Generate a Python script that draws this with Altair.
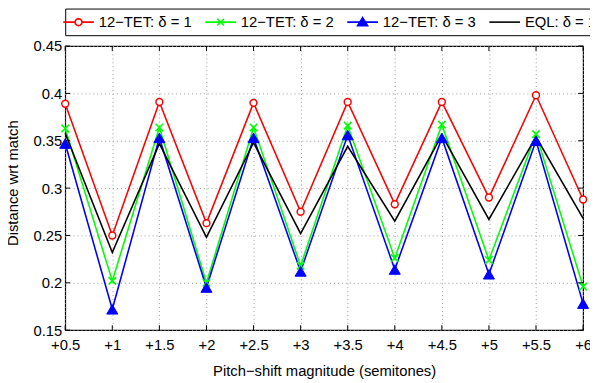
import json
import altair as alt
import pandas as pd

# ---- data ----
shifts = [0.5, 1, 1.5, 2, 2.5, 3, 3.5, 4, 4.5, 5, 5.5, 6]
tet_d1 = [0.389, 0.250, 0.391, 0.263, 0.390, 0.275, 0.391, 0.283, 0.391, 0.290, 0.398, 0.288]
tet_d2 = [0.363, 0.202, 0.364, 0.200, 0.364, 0.218, 0.366, 0.226, 0.367, 0.224, 0.357, 0.196]
tet_d3 = [0.347, 0.172, 0.353, 0.195, 0.353, 0.212, 0.356, 0.214, 0.353, 0.209, 0.350, 0.178]
eql_d1 = [0.358, 0.232, 0.347, 0.248, 0.348, 0.252, 0.344, 0.265, 0.356, 0.267, 0.354, 0.268]

series_names = ["12\u2212TET: \u03b4 = 1", "12\u2212TET: \u03b4 = 2", "12\u2212TET: \u03b4 = 3", "EQL: \u03b4 = 1"]
series_colors = ["#ff0000", "#00ff00", "#0000ff", "#000000"]
legend_fills = ["#ffffff", "transparent", "#0000ff", "transparent"]
legend_shapes = [
    "M-2.07,0H-0.47M0.47,0H2.07M0.47,0L0.41,0.24L0.24,0.41L0,0.47L-0.24,0.41L-0.41,0.24L-0.47,0"
    "L-0.41,-0.24L-0.24,-0.41L0,-0.47L0.24,-0.41L0.41,-0.24Z",
    "M-2.07,0H2.07M-0.45,-0.45L0.45,0.45M-0.45,0.45L0.45,-0.45",
    "M-2.07,0H2.07M0,-0.62L0.68,0.5L-0.68,0.5Z",
    "M-2.07,0H2.07",
]
x_ticks = shifts
y_ticks = [0.15, 0.2, 0.25, 0.3, 0.35, 0.4, 0.45]
x_title = "Pitch\u2212shift magnitude (semitones)"
y_title = "Distance wrt match"

FONT = "Liberation Sans, Arial, Helvetica, sans-serif"
W, H = 525, 288

rows = []
for name, vals in zip(series_names, [tet_d1, tet_d2, tet_d3, eql_d1]):
    for xv, yv in zip(shifts, vals):
        rows.append({"x": xv, "y": yv, "series": name})
df = pd.DataFrame(rows)

names_js = json.dumps(series_names, ensure_ascii=False)
shape_expr = json.dumps(legend_shapes) + "[indexof(" + names_js + ", datum.value)]"
fill_expr = json.dumps(legend_fills) + "[indexof(" + names_js + ", datum.value)]"

xscale = alt.Scale(domain=[0.5, 6], nice=False, zero=False)
yscale = alt.Scale(domain=[0.15, 0.45], nice=False, zero=False)

xaxis = alt.Axis(values=x_ticks, labelExpr="'+' + datum.value", grid=True,
                 gridDash=[1, 3], gridColor="#999999", ticks=False, tickSize=0,
                 domain=False, labelPadding=7.5, title=x_title, titlePadding=11,
                 labelFlush=False, labelOverlap=False)
yaxis = alt.Axis(values=y_ticks, labelExpr="'' + datum.value", grid=True,
                 gridDash=[1, 3], gridColor="#999999", ticks=False, tickSize=0,
                 domain=False, labelPadding=3.5, title=y_title,
                 titleX=-53, titleY=138.5, titleBaseline="middle",
                 labelFlush=False, labelOverlap=False)

legend = alt.Legend(
    orient="top", offset=11, direction="horizontal", columns=4,
    symbolSize=225, labelOffset=12, symbolOffset=0,
    symbolType={"expr": shape_expr},
    symbolFillColor={"expr": fill_expr},
)

lines = alt.Chart(df).mark_line(strokeWidth=1.6).encode(
    x=alt.X("x:Q", scale=xscale, axis=xaxis),
    y=alt.Y("y:Q", scale=yscale, axis=yaxis),
    color=alt.Color("series:N", scale=alt.Scale(domain=series_names, range=series_colors),
                    title=None, legend=legend),
    detail="series:N",
)

red_pts = alt.Chart(df).transform_filter(alt.datum.series == series_names[0]).mark_point(
    shape="circle", size=49, filled=True, fill="white", stroke=series_colors[0],
    strokeWidth=1.5, opacity=1).encode(x="x:Q", y="y:Q")
green_pts = alt.Chart(df).transform_filter(alt.datum.series == series_names[1]).mark_point(
    shape="M-1,-1L1,1M-1,1L1,-1", size=58, filled=False, stroke=series_colors[1],
    strokeWidth=1.6, opacity=1).encode(x="x:Q", y="y:Q")
blue_pts = alt.Chart(df).transform_filter(alt.datum.series == series_names[2]).mark_point(
    shape="triangle-up", size=125, filled=True, fill=series_colors[2], stroke=series_colors[2],
    strokeWidth=1, opacity=1).encode(x="x:Q", y="y:Q")

xt = pd.DataFrame({"x": x_ticks})
yt = pd.DataFrame({"y": y_ticks})
tick_b = alt.Chart(xt).mark_rule(color="black", strokeWidth=1).encode(
    x="x:Q", y=alt.value(H), y2=alt.value(H - 5))
tick_t = alt.Chart(xt).mark_rule(color="black", strokeWidth=1).encode(
    x="x:Q", y=alt.value(0), y2=alt.value(5))
tick_l = alt.Chart(yt).mark_rule(color="black", strokeWidth=1).encode(
    y="y:Q", x=alt.value(0), x2=alt.value(5))
tick_r = alt.Chart(yt).mark_rule(color="black", strokeWidth=1).encode(
    y="y:Q", x=alt.value(W - 5), x2=alt.value(W))

chart = alt.layer(
    lines, red_pts, green_pts, blue_pts, tick_b, tick_t, tick_l, tick_r
).properties(
    width=W, height=H,
    autosize=alt.AutoSizeParams(type="none"),
    padding={"left": 58, "top": 36, "right": 7, "bottom": 50},
).configure_view(
    stroke="black", strokeWidth=1.2
).configure_axis(
    labelFont=FONT, titleFont=FONT, labelFontSize=15, titleFontSize=15,
    titleFontWeight="normal", labelColor="black", titleColor="black",
).configure_legend(
    padding=5, strokeColor="black", fillColor="white", strokeWidth=1,
    symbolStrokeWidth=1.6, labelFont=FONT, labelFontSize=15,
    labelColor="black", columnPadding=9,
)

chart.save("out.html", embed_options={"renderer": "svg", "actions": False})
